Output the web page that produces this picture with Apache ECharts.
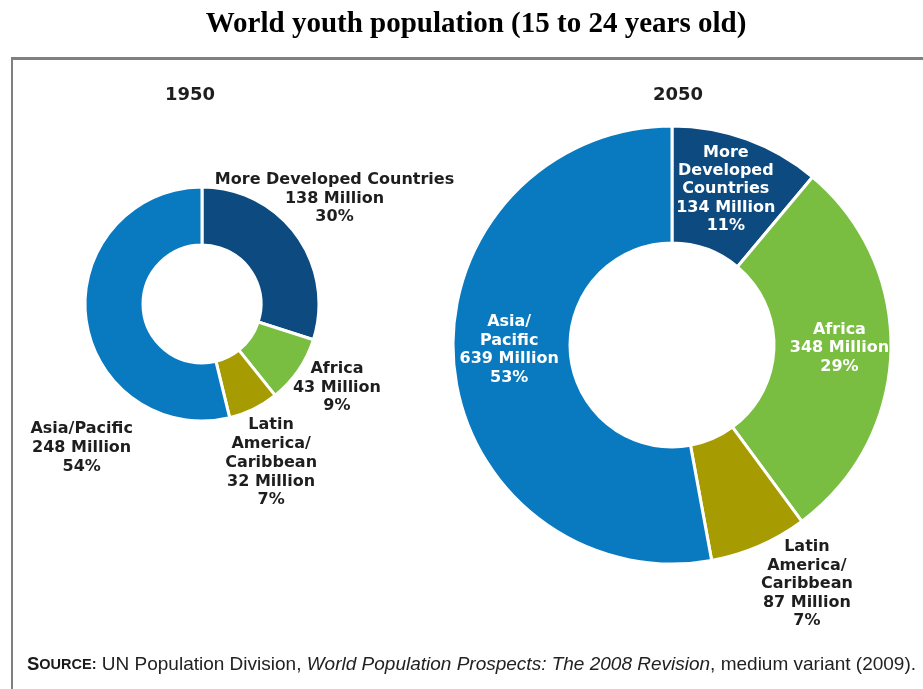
<!DOCTYPE html>
<html>
<head>
<meta charset="utf-8">
<title>World youth population (15 to 24 years old)</title>
<script src="https://cdn.jsdelivr.net/npm/echarts@6/dist/echarts.min.js"></script>
<style>
  html, body { margin: 0; padding: 0; background: #ffffff; }
  #chart { width: 923px; height: 689px; }
</style>
</head>
<body>
<div id="chart"></div>
<script>
// Youth population (millions) by region
const regions = ['More Developed Countries', 'Africa', 'Latin America/Caribbean', 'Asia/Pacific'];
const values1950 = [138, 43, 32, 248];
const values2050 = [134, 348, 87, 639];
// Label text (line breaks differ between the two rings)
const labels1950 = ['More Developed Countries', 'Africa', 'Latin\nAmerica/\nCaribbean', 'Asia/Pacific'];
const labels2050 = ['More\nDeveloped\nCountries', 'Africa', 'Latin\nAmerica/\nCaribbean', 'Asia/\nPacific'];
const years = ['1950', '2050'];
const regionColors = ['#0c4a7f', '#79bd41', '#a79b02', '#0a7ac0'];

const labelFont = 'DejaVu Sans';
const darkText = '#1e1e1e';

function labelFormatter(textList) {
  return function (p) {
    return textList[p.dataIndex] + '\n' + p.value + ' Million\n' + p.percent + '%';
  };
}

// per-slice label colour and nudge away from the ring's mid-radius
const labelSetup1950 = [
  { color: darkText, offset: [59, -52] },
  { color: darkText, offset: [60, 32] },
  { color: darkText, offset: [29, 77] },
  { color: darkText, offset: [-30, 133] }
];
const labelSetup2050 = [
  { color: '#ffffff', offset: [-2, -2] },
  { color: '#ffffff', offset: [4, -2] },
  { color: darkText, offset: [70, 89] },
  { color: '#ffffff', offset: [0, -10] }
];

function buildData(values, setup) {
  return values.map((v, i) => ({
    name: regions[i],
    value: v,
    itemStyle: { color: regionColors[i] },
    label: { color: setup[i].color, offset: setup[i].offset }
  }));
}

const chart = echarts.init(document.getElementById('chart'), null, { renderer: 'canvas' });

chart.setOption({
  backgroundColor: '#ffffff',
  animation: false,
  graphic: [
    // heading
    {
      type: 'text', x: 476, y: 25, silent: true,
      style: {
        text: 'World youth population (15 to 24 years old)',
        align: 'center', verticalAlign: 'middle',
        fontFamily: 'Liberation Serif', fontWeight: 'bold', fontSize: 29, fill: '#000000'
      }
    },
    // frame around the figure
    { type: 'line', shape: { x1: 12, y1: 58.5, x2: 923, y2: 58.5 }, style: { stroke: '#808080', lineWidth: 3 }, silent: true },
    { type: 'line', shape: { x1: 12, y1: 57, x2: 12, y2: 689 }, style: { stroke: '#808080', lineWidth: 2 }, silent: true },
    // year headings
    {
      type: 'text', x: 190, y: 95, silent: true,
      style: { text: years[0], align: 'center', verticalAlign: 'middle', fontFamily: labelFont, fontWeight: 'bold', fontSize: 18, fill: darkText }
    },
    {
      type: 'text', x: 678, y: 95, silent: true,
      style: { text: years[1], align: 'center', verticalAlign: 'middle', fontFamily: labelFont, fontWeight: 'bold', fontSize: 18, fill: darkText }
    },
    // source note
    {
      type: 'text',
      x: 27, y: 665,
      style: {
        text: '{s|S}{sc|OURCE:} UN Population Division, {i|World Population Prospects: The 2008 Revision}, medium variant (2009).',
        verticalAlign: 'middle',
        fontFamily: 'Liberation Sans',
        fontSize: 19,
        fill: '#222222',
        rich: {
          s: { fontFamily: 'Liberation Sans', fontWeight: 'bold', fontSize: 18.5, fill: '#1a1a1a' },
          sc: { fontFamily: 'Liberation Sans', fontWeight: 'bold', fontSize: 14.5, fill: '#1a1a1a' },
          i: { fontFamily: 'Liberation Sans', fontStyle: 'italic', fontSize: 19, fill: '#222222' }
        }
      },
      silent: true
    }
  ],
  series: [
    {
      name: years[0],
      type: 'pie',
      center: [202, 304],
      radius: [59, 117],
      startAngle: 90,
      clockwise: true,
      avoidLabelOverlap: false,
      percentPrecision: 0,
      itemStyle: { borderColor: '#ffffff', borderWidth: 3 },
      label: {
        position: 'inside',
        formatter: labelFormatter(labels1950),
        fontFamily: labelFont,
        fontWeight: 'bold',
        fontSize: 16,
        lineHeight: 18.7,
        align: 'center'
      },
      labelLine: { show: false },
      emphasis: { disabled: true },
      data: buildData(values1950, labelSetup1950)
    },
    {
      name: years[1],
      type: 'pie',
      center: [672, 345],
      radius: [102, 219],
      startAngle: 90,
      clockwise: true,
      avoidLabelOverlap: false,
      percentPrecision: 0,
      itemStyle: { borderColor: '#ffffff', borderWidth: 3 },
      label: {
        position: 'inside',
        formatter: labelFormatter(labels2050),
        fontFamily: labelFont,
        fontWeight: 'bold',
        fontSize: 16,
        lineHeight: 18.4,
        align: 'center'
      },
      labelLine: { show: false },
      emphasis: { disabled: true },
      data: buildData(values2050, labelSetup2050)
    }
  ]
});
</script>
</body>
</html>
